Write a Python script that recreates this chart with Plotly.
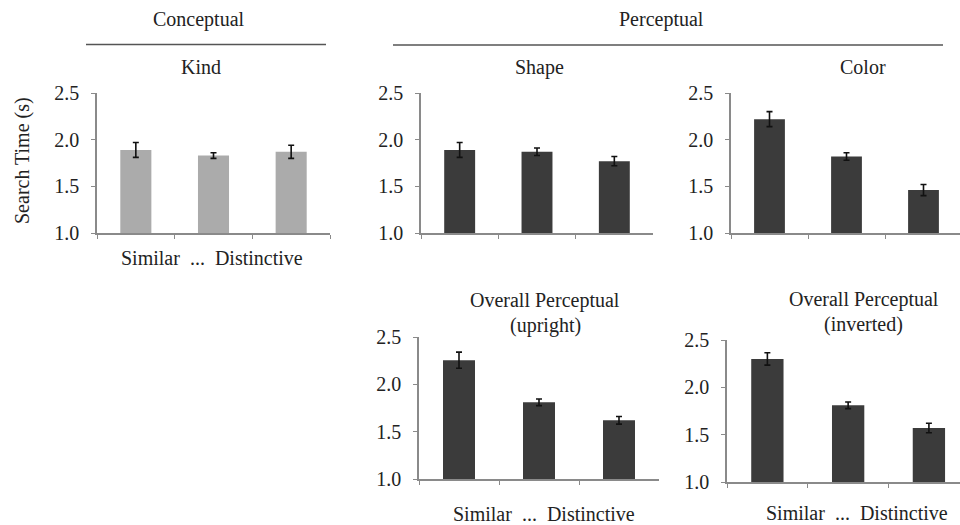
import plotly.graph_objects as go

W, H = 960, 525

categories = ["Similar", "Intermediate", "Distinctive"]

kind_means = [1.89, 1.83, 1.87]
kind_err = [0.08, 0.03, 0.07]
shape_means = [1.89, 1.87, 1.77]
shape_err = [0.08, 0.04, 0.05]
color_means = [2.22, 1.82, 1.46]
color_err = [0.08, 0.04, 0.06]
upright_means = [2.255, 1.81, 1.62]
upright_err = [0.085, 0.035, 0.04]
inverted_means = [2.30, 1.81, 1.57]
inverted_err = [0.065, 0.035, 0.05]

y_ticks = [1.0, 1.5, 2.0, 2.5]
y_tick_labels = ["1.0", "1.5", "2.0", "2.5"]

FONT = "Liberation Serif, Times New Roman, DejaVu Serif, serif"
FS = 20
LIGHT = "#ababab"
DARK = "#3b3b3b"
AXIS = "#8a8a8a"
TXT = "#222222"

# panel geometry in pixels: (x0, x1, y_top, y_bottom, x_range_max)
panels = [
    ("Kind", kind_means, kind_err, LIGHT, (97, 330, 93, 233, 2.5)),
    ("Shape", shape_means, shape_err, DARK, (421, 653, 93, 233, 2.5)),
    ("Color", color_means, color_err, DARK, (731, 960, 93, 233, 2.474)),
    ("Upright", upright_means, upright_err, DARK, (419, 659, 337, 479, 2.5)),
    ("Inverted", inverted_means, inverted_err, DARK, (727, 960, 340, 482, 2.385)),
]

fig = go.Figure()
layout_axes = {}
for i, (name, means, errs, col, (x0, x1, yt, yb, xr)) in enumerate(panels, start=1):
    xa = "x" if i == 1 else f"x{i}"
    ya = "y" if i == 1 else f"y{i}"
    fig.add_trace(go.Bar(
        x=categories, y=means, xaxis=xa, yaxis=ya, width=0.4,
        marker=dict(color=col, line=dict(width=0)),
        error_y=dict(type="data", array=errs, visible=True,
                     color="#111111", thickness=1.6, width=3),
        showlegend=False, name=name, hoverinfo="skip",
    ))
    xkey = "xaxis" if i == 1 else f"xaxis{i}"
    ykey = "yaxis" if i == 1 else f"yaxis{i}"
    layout_axes[xkey] = dict(
        domain=[x0 / W, x1 / W], anchor=ya, type="category",
        range=[-0.5, xr], showticklabels=False, ticks="outside",
        tickson="boundaries", ticklen=4, tickcolor=AXIS, tickwidth=1.2,
        showline=True, linecolor=AXIS, linewidth=1.5, automargin=False,
        showgrid=False, zeroline=False, fixedrange=True,
    )
    layout_axes[ykey] = dict(
        domain=[1 - yb / H, 1 - yt / H], anchor=xa,
        range=[1.0, 2.5], tickvals=y_ticks, ticktext=y_tick_labels,
        ticks="outside", ticklen=4, tickcolor=AXIS, tickwidth=1.2,
        ticklabelstandoff=8, automargin=False, fixedrange=True,
        showline=True, linecolor=AXIS, linewidth=1.5,
        showgrid=False, zeroline=False,
        tickfont=dict(family=FONT, size=FS, color=TXT),
    )


def ann(text, px, py, size=FS):
    return dict(text=text, x=px / W, y=1 - py / H, xref="paper", yref="paper",
                xanchor="center", yanchor="middle", showarrow=False,
                font=dict(family=FONT, size=size, color=TXT))


annotations = [
    ann("Conceptual", 199, 20),
    ann("Perceptual", 661, 20),
    ann("Kind", 201, 67),
    ann("Shape", 539, 67),
    ann("Color", 863, 67),
    ann("Overall Perceptual", 545, 300),
    ann("(upright)", 545, 325),
    ann("Overall Perceptual", 864, 299),
    ann("(inverted)", 863, 324),
    ann("Similar  ...  Distinctive", 212, 258),
    ann("Similar  ...  Distinctive", 544, 514),
    ann("Similar  ...  Distinctive", 857, 513),
    dict(text="Search Time (s)", x=22 / W, y=1 - 161 / H, xref="paper", yref="paper",
         xanchor="center", yanchor="middle", showarrow=False, textangle=-90,
         font=dict(family=FONT, size=FS, color=TXT)),
]

shapes = [
    dict(type="line", xref="paper", yref="paper", x0=86 / W, x1=326 / W,
         y0=1 - 44.5 / H, y1=1 - 44.5 / H, line=dict(color="#555555", width=1.5)),
    dict(type="line", xref="paper", yref="paper", x0=393 / W, x1=943 / W,
         y0=1 - 45 / H, y1=1 - 45 / H, line=dict(color="#555555", width=1.5)),
]

fig.update_layout(
    template="none",
    width=W, height=H, margin=dict(l=0, r=0, t=0, b=0, pad=0, autoexpand=False),
    paper_bgcolor="white", plot_bgcolor="white",
    annotations=annotations, shapes=shapes, bargap=0.6, showlegend=False,
    font=dict(family=FONT, size=FS, color=TXT),
    **layout_axes,
)

fig.write_html(
    "out.html",
    config={"displayModeBar": False},
    post_script="document.body.style.margin='0';document.body.style.overflow='hidden';",
)
